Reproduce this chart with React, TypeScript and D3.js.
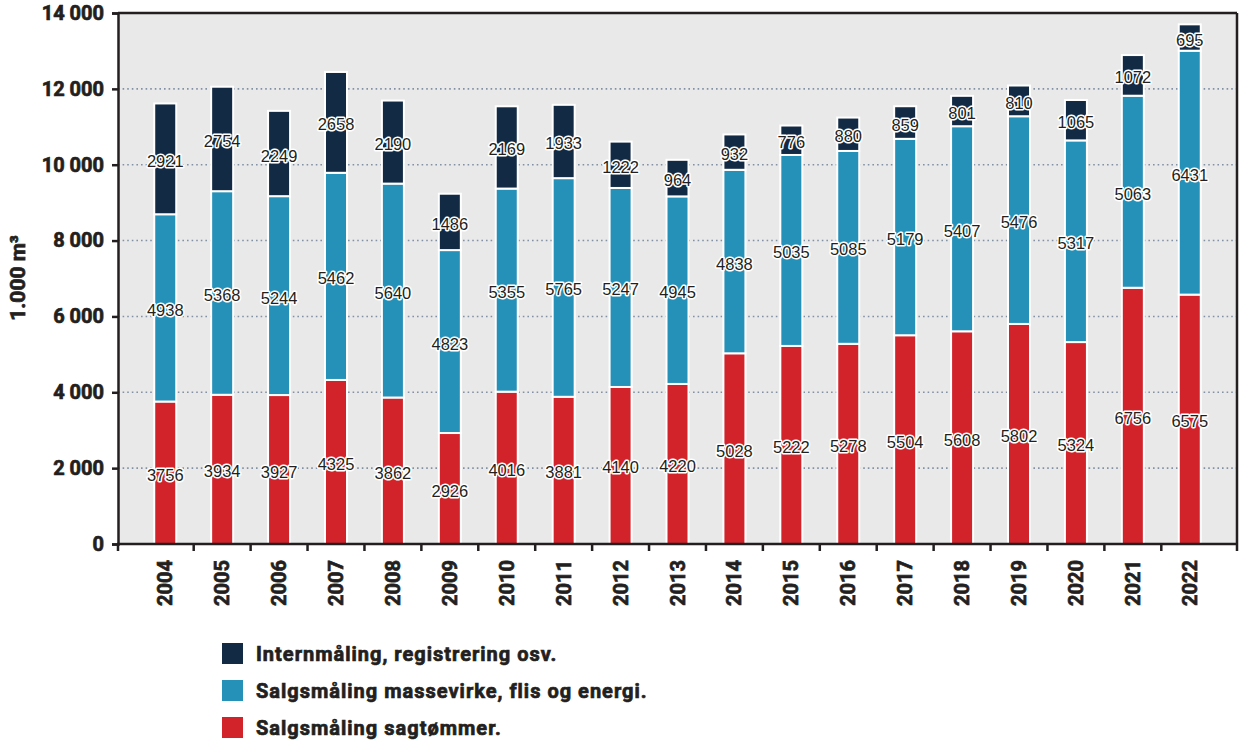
import React, { useEffect, useRef } from "react";
import * as d3 from "d3";

const years = ["2004", "2005", "2006", "2007", "2008", "2009", "2010", "2011", "2012", "2013", "2014", "2015", "2016", "2017", "2018", "2019", "2020", "2021", "2022"];
const sagtommer = [3756, 3934, 3927, 4325, 3862, 2926, 4016, 3881, 4140, 4220, 5028, 5222, 5278, 5504, 5608, 5802, 5324, 6756, 6575];
const massevirke = [4938, 5368, 5244, 5462, 5640, 4823, 5355, 5765, 5247, 4945, 4838, 5035, 5085, 5179, 5407, 5476, 5317, 5063, 6431];
const internmaling = [2921, 2754, 2249, 2658, 2190, 1486, 2169, 1933, 1222, 964, 932, 776, 880, 859, 801, 810, 1065, 1072, 695];
const yTicks = [0, 2000, 4000, 6000, 8000, 10000, 12000, 14000];

const seriesNames = ["Internmåling, registrering osv.", "Salgsmåling massevirke, flis og energi.", "Salgsmåling sagtømmer."];
const colors = { sag: "#d2232b", masse: "#2591b8", intern: "#122a44" };

const W = 1243;
const H = 742;
const heavy = "Roboto, 'Liberation Sans', sans-serif";
const ink = "#231f20";

export default function App() {
  const ref = useRef<SVGSVGElement>(null);

  useEffect(() => {
    document.body.style.margin = "0";
    if (!ref.current) return;
    const svg = d3.select(ref.current);
    svg.selectAll("*").remove();

    const left = 118, right = 1237, top = 13, bottom = 544;

    const x = d3.scaleBand().domain(years).range([left, right]).paddingOuter(0.33).paddingInner(0);
    const y = d3.scaleLinear().domain([0, 14000]).range([bottom, top]);
    const barW = 22;

    svg.append("rect")
      .attr("x", left).attr("y", top)
      .attr("width", right - left).attr("height", bottom - top)
      .attr("fill", "#e9e9e9");

    // grid
    svg.append("g").selectAll("line")
      .data(yTicks.filter((t) => t > 0 && t < 14000))
      .join("line")
      .attr("x1", left).attr("x2", right)
      .attr("y1", (d) => y(d)).attr("y2", (d) => y(d))
      .attr("stroke", "#8391a5").attr("stroke-width", 1.6)
      .attr("stroke-dasharray", "1.6,3");

    const data = years.map((yr, i) => ({
      yr,
      segs: [
        { key: "sag", v: sagtommer[i], y0: 0, y1: sagtommer[i] },
        { key: "masse", v: massevirke[i], y0: sagtommer[i], y1: sagtommer[i] + massevirke[i] },
        { key: "intern", v: internmaling[i], y0: sagtommer[i] + massevirke[i], y1: sagtommer[i] + massevirke[i] + internmaling[i] },
      ],
    }));

    const bars = svg.append("g");
    data.forEach((d) => {
      const cx = (x(d.yr) || 0) + x.bandwidth() / 2;
      d.segs.forEach((s) => {
        bars.append("rect")
          .attr("x", cx - barW / 2)
          .attr("y", y(s.y1))
          .attr("width", barW)
          .attr("height", y(s.y0) - y(s.y1))
          .attr("fill", (colors as any)[s.key])
          .attr("stroke", "#ffffff")
          .attr("stroke-width", 2);
      });
    });

    // axes frame
    const frame = svg.append("g").attr("stroke", ink).attr("stroke-width", 2.5).attr("fill", "none");
    frame.append("line").attr("x1", left).attr("x2", right).attr("y1", top).attr("y2", top);
    frame.append("line").attr("x1", right).attr("x2", right).attr("y1", top).attr("y2", bottom);

    const yAxis = svg.append("g")
      .attr("transform", `translate(${left},0)`)
      .call(d3.axisLeft(y).tickValues(yTicks).tickSize(6).tickPadding(8)
        .tickFormat((d) => d3.format(",")(d as number).replace(/,/g, " ")));
    yAxis.selectAll("path, line").attr("stroke", ink).attr("stroke-width", 2.5);
    yAxis.selectAll("text")
      .attr("font-family", heavy).attr("font-weight", 700)
      .attr("font-size", 20).attr("fill", ink)
      .attr("stroke", ink).attr("stroke-width", 0.7);

    // x axis with ticks at band boundaries
    const xa = svg.append("g");
    xa.append("line").attr("x1", left - 1).attr("x2", right + 1).attr("y1", bottom).attr("y2", bottom)
      .attr("stroke", ink).attr("stroke-width", 2.5);
    const bounds = [left, ...years.slice(1).map((yr) => x(yr) || 0), right];
    xa.selectAll("line.tick").data(bounds).join("line").attr("class", "tick")
      .attr("x1", (d) => d).attr("x2", (d) => d)
      .attr("y1", bottom).attr("y2", bottom + 7)
      .attr("stroke", ink).attr("stroke-width", 2.5);
    xa.selectAll("text").data(years).join("text")
      .attr("transform", (d) => `translate(${(x(d) || 0) + x.bandwidth() / 2 + 7},${bottom + 16}) rotate(-90)`)
      .attr("text-anchor", "end")
      .attr("font-family", heavy).attr("font-weight", 700)
      .attr("font-size", 20).attr("fill", ink)
      .attr("stroke", ink).attr("stroke-width", 0.7)
      .text((d) => d);

    // value labels
    const lab = svg.append("g");
    data.forEach((d) => {
      const cx = (x(d.yr) || 0) + x.bandwidth() / 2;
      d.segs.forEach((s) => {
        lab.append("text")
          .attr("x", cx)
          .attr("y", y((s.y0 + s.y1) / 2) + 8)
          .attr("text-anchor", "middle")
          .attr("font-family", "'Liberation Sans', Arial, sans-serif")
          .attr("font-size", 16.5)
          .attr("fill", ink)
          .attr("stroke", "#ffffff")
          .attr("stroke-width", 3)
          .attr("stroke-linejoin", "round")
          .attr("paint-order", "stroke")
          .text(String(s.v));
      });
    });

    // y title
    svg.append("text")
      .attr("transform", `translate(25,278) rotate(-90)`)
      .attr("text-anchor", "middle")
      .attr("font-family", heavy).attr("font-weight", 700)
      .attr("font-size", 21).attr("fill", ink)
      .attr("stroke", ink).attr("stroke-width", 0.7)
      .text("1.000 m³");

    // legend
    const legCols = [colors.intern, colors.masse, colors.sag];
    const leg = svg.append("g");
    seriesNames.forEach((n, i) => {
      const ly = 643 + i * 37;
      leg.append("rect").attr("x", 222).attr("y", ly).attr("width", 21).attr("height", 21).attr("fill", legCols[i]);
      leg.append("text").attr("x", 256).attr("y", ly + 18)
        .attr("font-family", heavy).attr("font-weight", 700)
        .attr("font-size", 20).attr("fill", ink)
        .attr("letter-spacing", 1)
        .attr("stroke", ink).attr("stroke-width", 0.7)
        .text(n);
    });
  }, []);

  return <svg ref={ref} width={W} height={H} style={{ display: "block", background: "#ffffff" }} />;
}
